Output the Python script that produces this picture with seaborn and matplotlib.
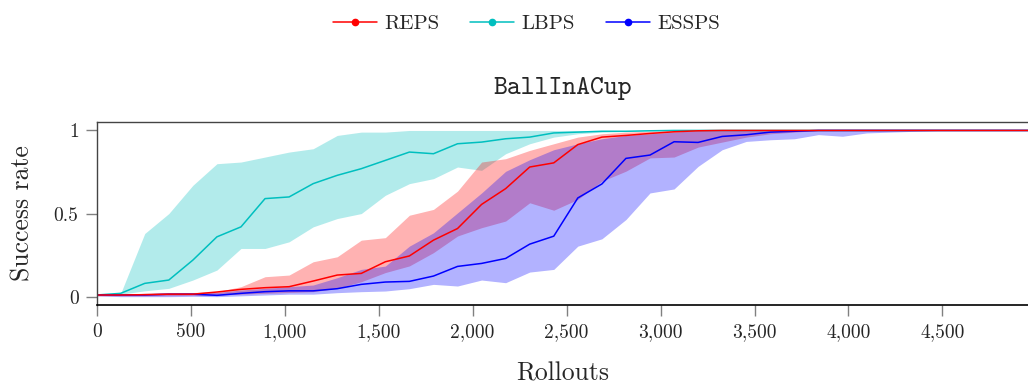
import numpy as np
import pandas as pd
import matplotlib
matplotlib.use("Agg")
import matplotlib.pyplot as plt
from matplotlib.lines import Line2D
from matplotlib.ticker import FuncFormatter
import seaborn as sns

# ---------------- data ----------------
rollouts = [128 * k for k in range(40)]

lbps_mean = [0.01, 0.02, 0.08, 0.10, 0.22, 0.36, 0.42, 0.59, 0.60, 0.68,
             0.73, 0.77, 0.82, 0.87, 0.86, 0.92, 0.93, 0.95, 0.96, 0.985,
             0.99, 0.995, 0.995, 0.998, 1, 1, 1, 1, 1, 1,
             1, 1, 1, 1, 1, 1, 1, 1, 1, 1]
lbps_upper = [0.01, 0.02, 0.38, 0.50, 0.67, 0.80, 0.81, 0.84, 0.87, 0.89,
              0.97, 0.99, 0.99, 1, 1, 1, 1, 1, 1, 1,
              1, 1, 1, 1, 1, 1, 1, 1, 1, 1,
              1, 1, 1, 1, 1, 1, 1, 1, 1, 1]
lbps_lower = [0.01, 0.015, 0.035, 0.05, 0.10, 0.16, 0.29, 0.29, 0.33, 0.42,
              0.47, 0.50, 0.61, 0.68, 0.71, 0.78, 0.76, 0.86, 0.92, 0.96,
              0.98, 0.99, 0.995, 1, 1, 1, 1, 1, 1, 1,
              1, 1, 1, 1, 1, 1, 1, 1, 1, 1]

reps_mean = [0.01, 0.01, 0.012, 0.015, 0.015, 0.028, 0.044, 0.054, 0.06, 0.094,
             0.13, 0.14, 0.21, 0.245, 0.34, 0.41, 0.555, 0.65, 0.78, 0.805,
             0.915, 0.96, 0.97, 0.982, 0.992, 0.998, 1, 1, 1, 1,
             1, 1, 1, 1, 1, 1, 1, 1, 1, 1]
reps_upper = [0.012, 0.015, 0.02, 0.025, 0.025, 0.03, 0.06, 0.12, 0.13, 0.21,
              0.24, 0.34, 0.355, 0.49, 0.525, 0.635, 0.81, 0.83, 0.88, 0.92,
              0.96, 0.98, 0.99, 0.995, 1, 1, 1, 1, 1, 1,
              1, 1, 1, 1, 1, 1, 1, 1, 1, 1]
reps_lower = [0.005, 0.005, 0.005, 0.006, 0.008, 0.01, 0.015, 0.02, 0.025, 0.03,
              0.05, 0.09, 0.145, 0.185, 0.265, 0.365, 0.415, 0.455, 0.565, 0.52,
              0.585, 0.695, 0.755, 0.835, 0.84, 0.90, 0.93, 0.96, 0.98, 0.99,
              1, 1, 1, 1, 1, 1, 1, 1, 1, 1]

essps_mean = [0.01, 0.01, 0.01, 0.015, 0.015, 0.008, 0.02, 0.03, 0.035, 0.035,
              0.048, 0.074, 0.088, 0.092, 0.124, 0.182, 0.2, 0.23, 0.316, 0.364,
              0.594, 0.678, 0.832, 0.852, 0.932, 0.928, 0.964, 0.974, 0.99, 0.995,
              1, 1, 1, 1, 1, 1, 1, 1, 1, 1]
essps_upper = [0.012, 0.015, 0.02, 0.02, 0.025, 0.025, 0.04, 0.05, 0.06, 0.07,
               0.114, 0.164, 0.184, 0.304, 0.384, 0.504, 0.624, 0.754, 0.824, 0.884,
               0.92, 0.95, 0.97, 0.98, 0.99, 1, 1, 1, 1, 1,
               1, 1, 1, 1, 1, 1, 1, 1, 1, 1]
essps_lower = [0.005, 0, 0, 0, 0.002, 0, 0.005, 0.01, 0.015, 0.015,
               0.024, 0.03, 0.034, 0.048, 0.074, 0.064, 0.1, 0.084, 0.148, 0.164,
               0.304, 0.348, 0.464, 0.624, 0.648, 0.784, 0.884, 0.934, 0.944, 0.95,
               0.975, 0.965, 0.985, 0.99, 0.995, 1, 1, 1, 1, 1]

methods = ["REPS", "LBPS", "ESSPS"]
x_ticks = [0, 500, 1000, 1500, 2000, 2500, 3000, 3500, 4000, 4500]
y_ticks = [0, 0.5, 1]
y_tick_labels = ["0", "0.5", "1"]
title = "BallInACup"

# ---------------- style ----------------
sns.set_theme(style="white")
plt.rcParams["font.family"] = ["cmr10", "DejaVu Serif"]
plt.rcParams["axes.formatter.use_mathtext"] = True
plt.rcParams["mathtext.fontset"] = "cm"

colors = {"REPS": (1.0, 0.0, 0.0), "LBPS": (0.0, 0.75, 0.75), "ESSPS": (0.0, 0.0, 1.0)}

bands = {
    "LBPS": (lbps_lower, lbps_upper),
    "REPS": (reps_lower, reps_upper),
    "ESSPS": (essps_lower, essps_upper),
}
means = {"REPS": reps_mean, "LBPS": lbps_mean, "ESSPS": essps_mean}

df = pd.concat([
    pd.DataFrame({"Rollouts": rollouts, "Success rate": means[m], "method": m})
    for m in ["LBPS", "ESSPS", "REPS"]
], ignore_index=True)

fig = plt.figure(figsize=(10.28, 3.89), dpi=100)
ax = fig.add_axes([0.094, 0.216, 0.906, 0.47])

for m in ["LBPS", "REPS", "ESSPS"]:
    lo, hi = bands[m]
    ax.fill_between(rollouts, lo, hi, color=colors[m], alpha=0.3, linewidth=0)

sns.lineplot(data=df, x="Rollouts", y="Success rate", hue="method",
             hue_order=["LBPS", "ESSPS", "REPS"], palette=colors,
             linewidth=1.1, legend=False, ax=ax, errorbar=None, sort=False)

ax.set_xlim(0, 4955)
ax.set_ylim(-0.05, 1.05)
ax.set_xticks(x_ticks)
ax.xaxis.set_major_formatter(FuncFormatter(lambda v, p: f"{int(v):,}"))
ax.set_yticks(y_ticks)
ax.set_yticklabels(y_tick_labels)
ax.tick_params(axis="both", which="major", direction="out", length=8, width=1,
               color="#808080", labelsize=14, pad=5)
ax.tick_params(axis="x", bottom=True)
ax.tick_params(axis="y", left=True)

for s in ["left", "top"]:
    ax.spines[s].set_color("#444444")
    ax.spines[s].set_linewidth(1.0)
ax.spines["bottom"].set_color("black")
ax.spines["bottom"].set_linewidth(1.2)
ax.spines["right"].set_visible(False)

ax.set_xlabel("Rollouts", fontsize=18.5, labelpad=15)
ax.set_ylabel("Success rate", fontsize=18.5, labelpad=14)
ax.set_title(title, fontsize=19, family=["cmtt10", "DejaVu Sans Mono"], pad=20)

handles = [Line2D([0], [0], color=colors[m], lw=1.1, marker="o", markersize=4.5)
           for m in methods]
fig.legend(handles, methods, loc="upper center", bbox_to_anchor=(0.512, 1.01),
           ncol=3, frameon=False, fontsize=15, handlelength=2.1,
           columnspacing=1.5, handletextpad=0.35)

fig.savefig("out.png", dpi=100)
